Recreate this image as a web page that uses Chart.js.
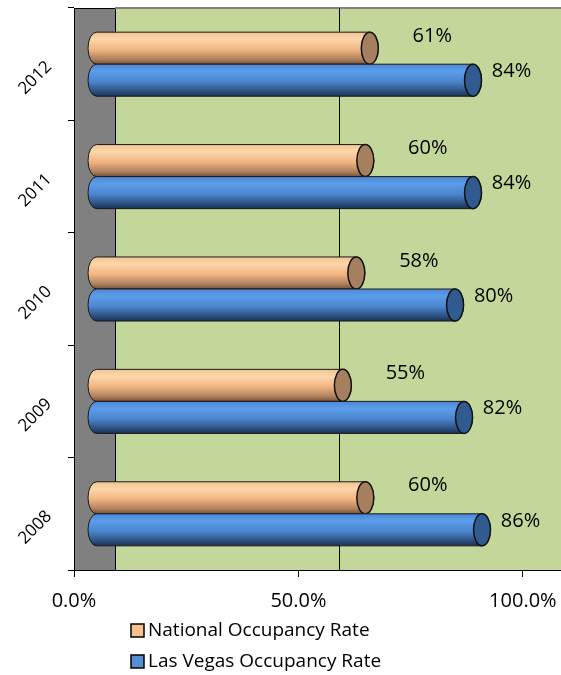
<!DOCTYPE html>
<html>
<head>
<meta charset="utf-8">
<script src="https://cdn.jsdelivr.net/npm/chart.js@4.4.1/dist/chart.umd.min.js"></script>
<style>
  html, body { margin: 0; padding: 0; background: #fff; }
  #wrap { width: 561px; height: 675px; }
</style>
</head>
<body>
<div id="wrap"><canvas id="occupancyChart" width="561" height="675"></canvas></div>
<script>
// occupancy rates, in percent
const years = ["2008", "2009", "2010", "2011", "2012"];
const nationalRate = [60, 55, 58, 60, 61];
const vegasRate = [86, 82, 80, 84, 84];
const xTickValues = [0, 50, 100];

const FONT = "'Comic Sans MS', 'Open Sans', sans-serif";
const DEPTH = 22;   // bars sit a bit behind the front axis
const WALL = 41;    // back wall offset
const CAP = 8.5;    // half width of the cylinder end ellipse

// body gradient + end face colour for each series
const cylinderStyle = [
  { stops: [[0, "#f3c393"], [0.22, "#fdd7aa"], [0.55, "#f0b481"], [0.85, "#ad7f5c"], [1, "#735339"]],
    face: "#a67f5e", labelDx: 54, labelDy: -12 },
  { stops: [[0, "#4d88d3"], [0.22, "#5c9deb"], [0.55, "#4b85cd"], [0.85, "#2b4f80"], [1, "#1b3051"]],
    face: "#2f5b90", labelDx: 30, labelDy: -9 }
];

// grey side wall, green back wall and the 50% line
const wallsPlugin = {
  id: "walls",
  beforeDraw(chart) {
    const { ctx, chartArea: a, scales } = chart;
    ctx.save();
    ctx.fillStyle = "#c4d79b";
    ctx.fillRect(a.left + WALL, a.top, a.right - a.left - WALL, a.bottom - a.top);
    ctx.fillStyle = "#808080";
    ctx.fillRect(a.left, a.top, WALL, a.bottom - a.top);
    ctx.strokeStyle = "#000";
    ctx.lineWidth = 1;
    ctx.strokeRect(a.left + 0.5, a.top + 0.5, WALL, a.bottom - a.top);
    // top edge of the back wall
    ctx.strokeStyle = "#7f7f7f";
    ctx.lineWidth = 2;
    ctx.beginPath();
    ctx.moveTo(a.left + WALL, a.top);
    ctx.lineTo(a.right, a.top);
    ctx.stroke();
    // gridline on back wall
    xTickValues.forEach(v => {
      if (v === 0 || v === 100) return;
      const gx = Math.round(scales.x.getPixelForValue(v) + WALL) + 0.5;
      ctx.strokeStyle = "#000";
      ctx.lineWidth = 1;
      ctx.beginPath();
      ctx.moveTo(gx, a.top);
      ctx.lineTo(gx, a.bottom);
      ctx.stroke();
    });
    ctx.restore();
  }
};

// draw each bar as a lying cylinder
const cylinderPlugin = {
  id: "cylinders",
  beforeDatasetsDraw(chart) {
    const ctx = chart.ctx;
    ctx.save();
    chart.data.datasets.forEach((ds, di) => {
      const meta = chart.getDatasetMeta(di);
      const st = cylinderStyle[di];
      meta.data.forEach(bar => {
        const x0 = bar.base + DEPTH;
        const x1 = bar.x + DEPTH;
        const ry = bar.height / 2;
        const top = bar.y - ry;
        const bottom = bar.y + ry;
        const grad = ctx.createLinearGradient(0, top, 0, bottom);
        st.stops.forEach(s => grad.addColorStop(s[0], s[1]));

        ctx.beginPath();
        ctx.moveTo(x0, top);
        ctx.lineTo(x1, top);
        ctx.ellipse(x1, bar.y, CAP, ry, 0, -Math.PI / 2, Math.PI / 2);
        ctx.lineTo(x0, bottom);
        ctx.ellipse(x0, bar.y, CAP, ry, 0, Math.PI / 2, Math.PI * 1.5);
        ctx.closePath();
        ctx.fillStyle = grad;
        ctx.fill();
        ctx.strokeStyle = "#1a1a1a";
        ctx.lineWidth = 1;
        ctx.stroke();

        // end face
        ctx.beginPath();
        ctx.ellipse(x1, bar.y, CAP, ry, 0, 0, Math.PI * 2);
        ctx.fillStyle = st.face;
        ctx.fill();
        ctx.lineWidth = 1.5;
        ctx.strokeStyle = "#111";
        ctx.stroke();
      });
    });
    ctx.restore();
    return false;
  },
  afterDraw(chart) {
    const ctx = chart.ctx;
    ctx.save();
    ctx.font = "20px " + FONT;
    ctx.fillStyle = "#000";
    ctx.textAlign = "center";
    ctx.textBaseline = "middle";
    chart.data.datasets.forEach((ds, di) => {
      const meta = chart.getDatasetMeta(di);
      const st = cylinderStyle[di];
      meta.data.forEach((bar, i) => {
        const endX = bar.x + DEPTH + CAP;
        ctx.fillText(ds.data[i] + "%", endX + st.labelDx, bar.y + st.labelDy);
      });
    });

    // legend, one entry per line
    ctx.font = "19px " + FONT;
    ctx.textAlign = "left";
    chart.data.datasets.forEach((ds, di) => {
      const ly = 630 + di * 31;
      ctx.fillStyle = ds.backgroundColor;
      ctx.fillRect(131, ly - 6, 13, 13);
      ctx.strokeStyle = "#000";
      ctx.lineWidth = 1.5;
      ctx.strokeRect(131, ly - 6, 13, 13);
      ctx.fillStyle = "#000";
      ctx.fillText(ds.label, 148, ly + 1);
    });
    ctx.restore();
  }
};

const ctx = document.getElementById("occupancyChart").getContext("2d");

const occupancyChart = new Chart(ctx, {
  type: "bar",
  data: {
    labels: years,
    datasets: [
      { label: "National Occupancy Rate", data: nationalRate, backgroundColor: "#fac090" },
      { label: "Las Vegas Occupancy Rate", data: vegasRate, backgroundColor: "#558ed5" }
    ]
  },
  options: {
    responsive: false,
    animation: false,
    indexAxis: "y",
    layout: { padding: { top: 8, right: 0, bottom: 60, left: 0 } },
    datasets: { bar: { categoryPercentage: 0.57, barPercentage: 1 } },
    plugins: {
      legend: { display: false },
      tooltip: { enabled: false }
    },
    scales: {
      x: {
        min: 0,
        max: 108.5,
        afterBuildTicks: (s) => { s.ticks = xTickValues.map(v => ({ value: v })); },
        afterFit: (s) => {
          s.height = 45;
          s.paddingLeft = 0;
          s.paddingRight = 0;
        },
        ticks: {
          callback: (v) => Number(v).toFixed(1) + "%",
          font: { family: FONT, size: 20 },
          color: "#000",
          padding: 12,
          autoSkip: false,
          maxRotation: 0
        },
        grid: { drawOnChartArea: false, tickLength: 7, color: "#000" },
        border: { color: "#000", width: 1 }
      },
      y: {
        reverse: true,
        afterFit: (s) => {
          s.width = 74;
          s.paddingTop = 0;
          s.paddingBottom = 0;
        },
        ticks: {
          minRotation: 45,
          maxRotation: 45,
          font: { family: FONT, size: 17 },
          color: "#000",
          padding: 19
        },
        grid: { drawOnChartArea: false, tickLength: 6, color: "#000", offset: true },
        border: { color: "#000", width: 1 }
      }
    }
  },
  plugins: [wallsPlugin, cylinderPlugin]
});
</script>
</body>
</html>
